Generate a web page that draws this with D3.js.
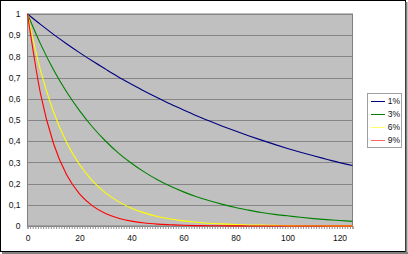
<!DOCTYPE html>
<html><head><meta charset="utf-8">
<script src="https://cdn.jsdelivr.net/npm/d3@7"></script>
<style>html,body{margin:0;padding:0;background:#fff;}svg{display:block;font-family:"Liberation Sans",Arial,sans-serif;}</style>
</head><body>
<svg id="c" width="408" height="254"></svg>
<script>
const xValues = [0,5,10,15,20,25,30,35,40,45,50,55,60,65,70,75,80,85,90,95,100,105,110,115,120,125];
const series1 = [1,0.951,0.904,0.860,0.818,0.778,0.740,0.703,0.669,0.636,0.605,0.575,0.547,0.520,0.495,0.471,0.448,0.426,0.405,0.385,0.366,0.348,0.331,0.315,0.299,0.285];
const series3 = [1,0.859,0.737,0.633,0.544,0.467,0.401,0.344,0.296,0.254,0.218,0.187,0.161,0.138,0.119,0.102,0.087,0.075,0.064,0.055,0.048,0.041,0.035,0.030,0.026,0.022];
const series6 = [1,0.734,0.539,0.395,0.290,0.213,0.156,0.115,0.084,0.062,0.045,0.033,0.024,0.018,0.013,0.010,0.007,0.005,0.004,0.003,0.002,0.0015,0.001,0.0008,0.0006,0.0004];
const series9 = [1,0.624,0.389,0.243,0.152,0.095,0.059,0.037,0.023,0.014,0.009,0.006,0.0035,0.002,0.0014,0.0009,0.0005,0.0003,0.0002,0.0001,0.0001,0,0,0,0,0];
const seriesNames = ["1%","3%","6%","9%"];
const seriesColors = ["#000080","#008000","#FFFF00","#FF0000"];
const legendColors = ["#000080","#008000","#FFFF66","#FF6666"];
const yTicks = [0,0.1,0.2,0.3,0.4,0.5,0.6,0.7,0.8,0.9,1];
const xTicks = [0,20,40,60,80,100,120];

const allSeries = [series1,series3,series6,series9];
const svg = d3.select("#c");
const fmt = v => String(+v.toFixed(1)).replace(".", ",");

// outer chart frame
svg.append("rect").attr("x",0.5).attr("y",0.5).attr("width",405).attr("height",251).attr("fill","#fff").attr("stroke","#000").attr("stroke-width",1);
svg.append("line").attr("x1",406.5).attr("x2",406.5).attr("y1",2).attr("y2",254).attr("stroke","#808080").attr("stroke-width",2);
svg.append("line").attr("x1",2).attr("x2",408).attr("y1",253).attr("y2",253).attr("stroke","#808080").attr("stroke-width",2);

const x = d3.scaleLinear().domain([0,125]).range([27.5,352.5]);
const y = d3.scaleLinear().domain([0,1]).range([226,14]);

// plot area
svg.append("rect").attr("x",x(0)).attr("y",y(1)).attr("width",x(125)-x(0)).attr("height",y(0)-y(1))
  .attr("fill","#C0C0C0").attr("stroke","#808080").attr("stroke-width",1);

// gridlines
svg.append("g").selectAll("line").data(yTicks).join("line")
  .attr("x1",x(0)).attr("x2",x(125)).attr("y1",d=>Math.round(y(d))+0.5).attr("y2",d=>Math.round(y(d))+0.5)
  .attr("stroke","#858585").attr("stroke-width",1);

// y axis labels
svg.append("g").attr("transform",`translate(${x(0)},0)`)
  .call(d3.axisLeft(y).tickValues(yTicks).tickSize(0).tickPadding(7).tickFormat(fmt))
  .call(g=>g.select(".domain").remove())
  .call(g=>g.selectAll("text").attr("font-size",8.5).attr("fill","#111").attr("font-family","Liberation Sans, Arial, sans-serif"));

// x axis minor ticks
svg.append("g").attr("transform",`translate(0,${y(0)})`)
  .call(d3.axisBottom(x).tickValues(d3.range(0,126,1)).tickSize(3).tickFormat(""))
  .call(g=>g.select(".domain").attr("stroke","#808080"))
  .call(g=>g.selectAll(".tick line").attr("stroke","#909090"));

// x axis labels
svg.append("g").attr("transform",`translate(0,${y(0)})`)
  .call(d3.axisBottom(x).tickValues(xTicks).tickSize(0).tickPadding(9))
  .call(g=>g.select(".domain").remove())
  .call(g=>g.selectAll("text").attr("font-size",8.5).attr("fill","#111").attr("font-family","Liberation Sans, Arial, sans-serif"));

// lines
const line = d3.line().x((d,i)=>x(xValues[i])).y(d=>y(d)).curve(d3.curveMonotoneX);
svg.append("g").selectAll("path").data(allSeries).join("path")
  .attr("d",line).attr("fill","none").attr("stroke",(d,i)=>seriesColors[i]).attr("stroke-width",1.1);

// legend
const lg = svg.append("g");
lg.append("rect").attr("x",367.5).attr("y",93.5).attr("width",34).attr("height",54)
  .attr("fill","#fff").attr("stroke","#a0a0a0").attr("stroke-width",1);
const items = lg.selectAll("g").data(seriesNames).join("g")
  .attr("transform",(d,i)=>`translate(0,${101+i*13})`);
items.append("line").attr("x1",371).attr("x2",385).attr("y1",0.5).attr("y2",0.5)
  .attr("stroke",(d,i)=>legendColors[i]).attr("stroke-width",1);
items.append("text").attr("x",400).attr("y",3).attr("text-anchor","end")
  .attr("font-size",8.5).attr("fill","#111").text(d=>d);
</script>
</body></html>
